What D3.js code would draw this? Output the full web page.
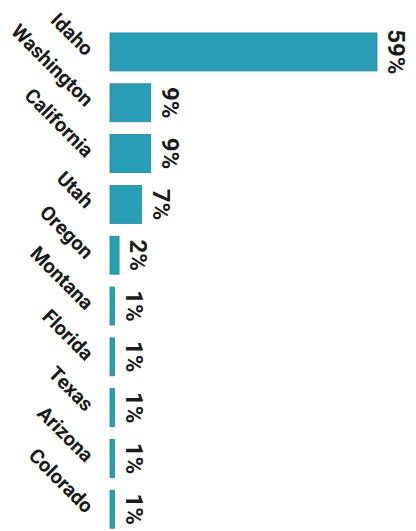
<!DOCTYPE html>
<html>
<head>
<meta charset="utf-8">
<script src="https://cdn.jsdelivr.net/npm/d3@7"></script>
<style>
  html, body { margin: 0; padding: 0; background: #ffffff; }
  svg { display: block; }
</style>
</head>
<body>
<svg id="chart" width="416" height="531"></svg>
<script>
// Share of total by state
const states = ["Idaho", "Washington", "California", "Utah", "Oregon", "Montana", "Florida", "Texas", "Arizona", "Colorado"];
const shares = [59, 9, 9, 7, 2, 1, 1, 1, 1, 1];
const shareLabels = ["59%", "9%", "9%", "7%", "2%", "1%", "1%", "1%", "1%", "1%"];

const width = 416, height = 531;
const left = 110;

const svg = d3.select("#chart");

const y = d3.scaleBand()
  .domain(states)
  .range([26.6, 534.6])
  .paddingInner(0.252)
  .paddingOuter(0.125);

const x = d3.scaleLinear()
  .domain([0, 59])
  .range([left, 377]);

const rows = states.map((s, i) => ({ state: s, value: shares[i], label: shareLabels[i] }));

// Bars
svg.append("g")
  .selectAll("rect")
  .data(rows)
  .join("rect")
  .attr("x", x(0))
  .attr("y", d => y(d.state))
  .attr("width", d => Math.max(3, x(d.value) - x(0)))
  .attr("height", y.bandwidth())
  .attr("fill", "#2a9db6")
  .attr("stroke", "#23879e")
  .attr("stroke-width", 0.8);

// Category labels, slanted down to the right
svg.append("g")
  .selectAll("text")
  .data(rows)
  .join("text")
  .attr("transform", d => `translate(${left - 20},${y(d.state) + y.bandwidth() / 2}) rotate(45)`)
  .attr("text-anchor", "end")
  .attr("dy", "0.35em")
  .attr("font-family", "Roboto, 'Liberation Sans', sans-serif")
  .attr("font-weight", 700)
  .attr("font-size", 20)
  .attr("fill", "#1a1a1a")
  .text(d => d.state);

// Value labels, turned to read top to bottom
svg.append("g")
  .selectAll("text")
  .data(rows)
  .join("text")
  .attr("transform", d => `translate(${Math.max(x(d.value), x(0) + 3) + 11},${y(d.state) + y.bandwidth() / 2}) rotate(90)`)
  .attr("text-anchor", "middle")
  .attr("font-family", "Roboto, 'Liberation Sans', sans-serif")
  .attr("font-weight", 700)
  .attr("font-size", 24)
  .attr("fill", "#1a1a1a")
  .text(d => d.label);
</script>
</body>
</html>
